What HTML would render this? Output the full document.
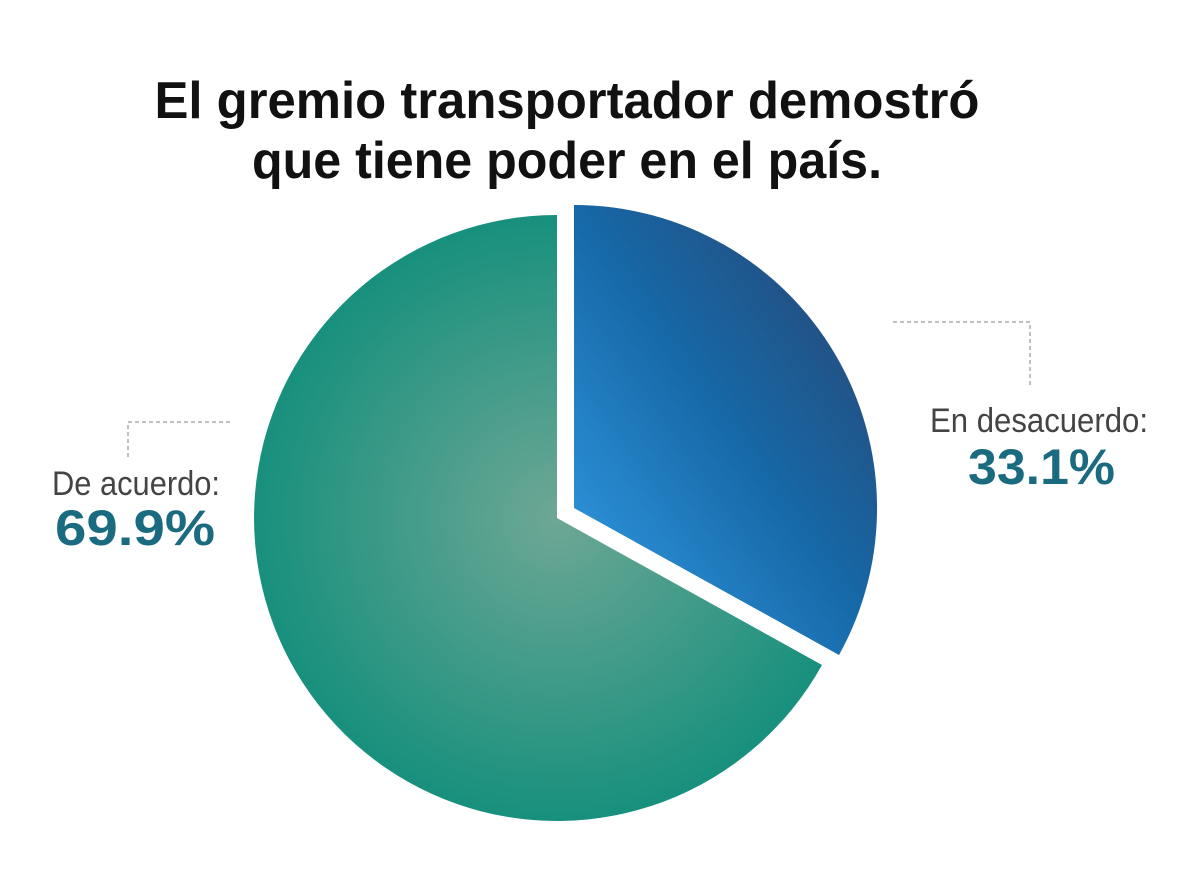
<!DOCTYPE html>
<html><head><meta charset="utf-8"><style>html,body{margin:0;padding:0;background:#fff;}svg{display:block}</style></head>
<body>
<svg width="1200" height="889" viewBox="0 0 1200 889" xmlns="http://www.w3.org/2000/svg">
<defs>
<radialGradient id="g" cx="557" cy="518" r="303" gradientUnits="userSpaceOnUse">
<stop offset="0" stop-color="#6ea795"/><stop offset="1" stop-color="#17907d"/>
</radialGradient>
<linearGradient id="b" x1="590" y1="520" x2="860" y2="330" gradientUnits="userSpaceOnUse">
<stop offset="0" stop-color="#2a8cd2"/><stop offset="0.5" stop-color="#1669a8"/><stop offset="1" stop-color="#244e80"/>
</linearGradient>
</defs>
<rect width="1200" height="889" fill="#fff"/>
<path d="M557,518 L557,215 A303,303 0 1,0 822,665 Z" fill="url(#g)"/>
<path d="M574,508 L574,205 A303,303 0 0,1 839,655 Z" fill="url(#b)"/>
<g fill="none" stroke="#aaa" stroke-width="1.5" stroke-dasharray="4,3">
<path d="M893,322 H1030 V385"/>
<path d="M230,422 H128 V460"/>
</g>
<g font-family="'Liberation Sans Narrow','Liberation Sans',sans-serif" font-weight="bold" fill="#111" font-size="52" text-anchor="middle">
<text x="567" y="118" textLength="825" lengthAdjust="spacingAndGlyphs">El gremio transportador demostró</text>
<text x="567" y="178" textLength="630" lengthAdjust="spacingAndGlyphs">que tiene poder en el país.</text>
</g>
<g font-family="'Liberation Sans Narrow','Liberation Sans',sans-serif" fill="#444" font-size="34">
<text x="930" y="432" textLength="218" lengthAdjust="spacingAndGlyphs">En desacuerdo:</text>
<text x="52" y="495" textLength="168" lengthAdjust="spacingAndGlyphs">De acuerdo:</text>
</g>
<g font-family="'Liberation Sans','DejaVu Sans',sans-serif" font-weight="bold" fill="#1a6a80" font-size="50">
<text x="968" y="484" textLength="147" lengthAdjust="spacingAndGlyphs">33.1%</text>
<text x="55" y="545" textLength="160" lengthAdjust="spacingAndGlyphs">69.9%</text>
</g>
</svg>
</body></html>
